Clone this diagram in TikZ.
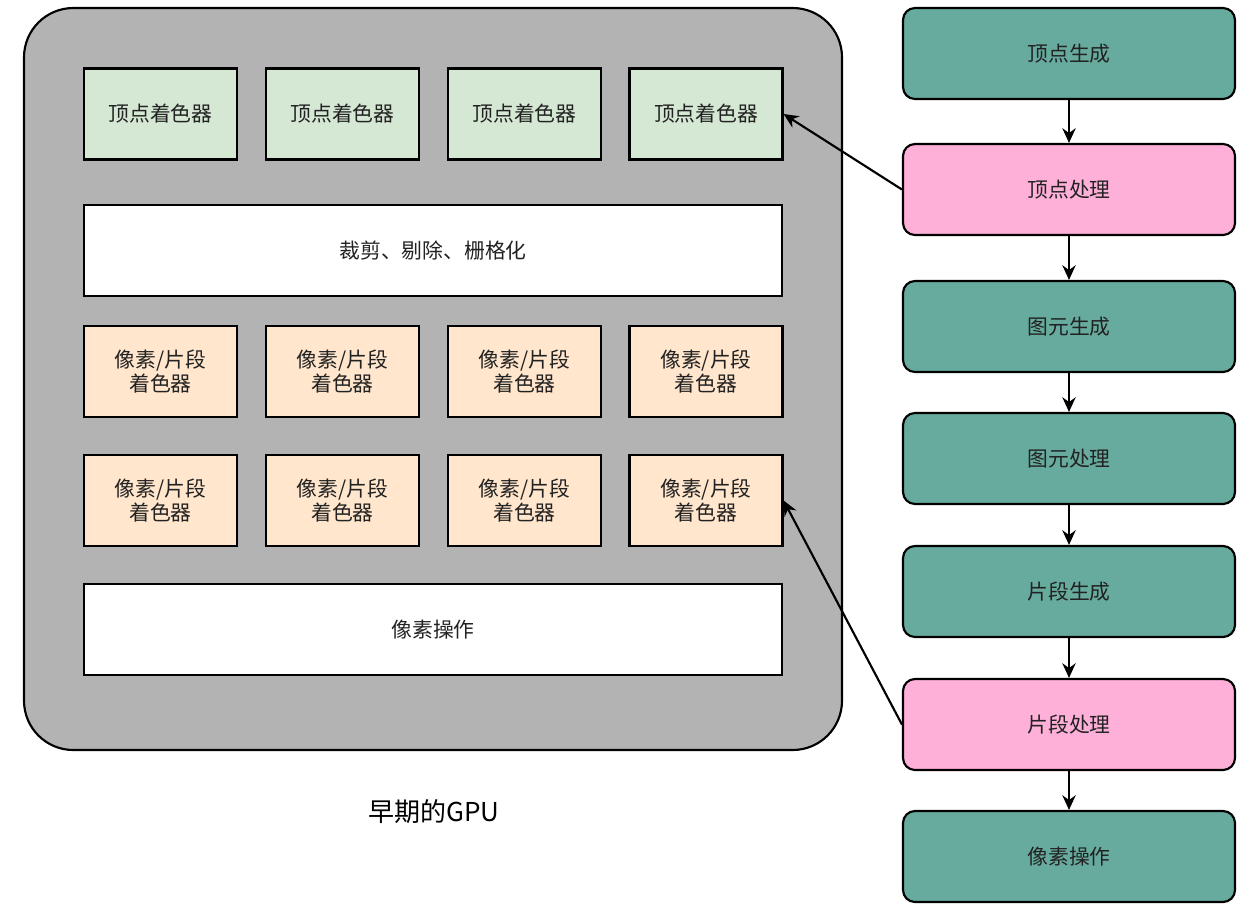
\documentclass[tikz,border=0pt]{standalone}
\usepackage{fontspec}
\setmainfont{Noto Sans CJK SC}
\usetikzlibrary{arrows.meta}
\definecolor{gpugray}{HTML}{B3B3B3}
\definecolor{vgreen}{HTML}{D5E8D4}
\definecolor{forange}{HTML}{FFE6CC}
\definecolor{teal}{HTML}{67AB9F}
\definecolor{pinkc}{HTML}{FFB0D9}
\definecolor{txt}{HTML}{222222}
\tikzset{
  unit/.style={draw=black, line width=1.6pt, inner sep=0pt, minimum width=114.75pt, minimum height=68.25pt, align=center, font=\fontsize{15.6}{18}\selectfont, text=txt},
  vbox/.style={unit, fill=vgreen},
  fbox/.style={unit, fill=forange},
  wbar/.style={unit, fill=white, minimum width=523.5pt},
  stage/.style={draw=black, line width=1.6pt, rounded corners=9pt, inner sep=0pt, minimum width=249pt, minimum height=68.25pt, font=\fontsize{15.6}{18}\selectfont, text=txt},
  tstage/.style={stage, fill=teal},
  pstage/.style={stage, fill=pinkc},
  flow/.style={line width=1.6pt, -{Stealth[length=11pt,width=10pt]}},
}
\begin{document}
\begin{tikzpicture}[x=0.75pt,y=-0.75pt]
\useasboundingbox (0,0) rectangle (1259,908);
\draw[fill=gpugray, line width=1.6pt, rounded corners=37pt] (24,8) rectangle (842,750);
% row 1
\node[vbox] (v1) at (160.5,114) {顶点着色器};
\node[vbox] (v2) at (342.5,114) {顶点着色器};
\node[vbox] (v3) at (524.5,114) {顶点着色器};
\node[vbox] (v4) at (706,114) {顶点着色器};
\node[wbar] (clip) at (433,250.5) {裁剪、剔除、栅格化};
% row 2
\node[fbox] (f1) at (160.5,371.5) {像素/片段\\着色器};
\node[fbox] (f2) at (342.5,371.5) {像素/片段\\着色器};
\node[fbox] (f3) at (524.5,371.5) {像素/片段\\着色器};
\node[fbox] (f4) at (706,371.5) {像素/片段\\着色器};
% row 3
\node[fbox] (g1) at (160.5,500.5) {像素/片段\\着色器};
\node[fbox] (g2) at (342.5,500.5) {像素/片段\\着色器};
\node[fbox] (g3) at (524.5,500.5) {像素/片段\\着色器};
\node[fbox] (g4) at (706,500.5) {像素/片段\\着色器};
\node[wbar] (pix) at (433,629.5) {像素操作};
\node[font=\fontsize{19.5}{22}\selectfont] (cap) at (434,812) {早期的GPU};
% pipeline
\node[tstage] (s1) at (1069,53.5) {顶点生成};
\node[pstage] (s2) at (1069,189.5) {顶点处理};
\node[tstage] (s3) at (1069,326.5) {图元生成};
\node[tstage] (s4) at (1069,458.5) {图元处理};
\node[tstage] (s5) at (1069,591.5) {片段生成};
\node[pstage] (s6) at (1069,724.5) {片段处理};
\node[tstage] (s7) at (1069,856.5) {像素操作};
\draw[flow] (s1) -- (s2);
\draw[flow] (s2) -- (s3);
\draw[flow] (s3) -- (s4);
\draw[flow] (s4) -- (s5);
\draw[flow] (s5) -- (s6);
\draw[flow] (s6) -- (s7);
\draw[flow] (s2.west) -- (v4.east);
\draw[flow] (s6.west) -- (g4.east);
\end{tikzpicture}
\end{document}
